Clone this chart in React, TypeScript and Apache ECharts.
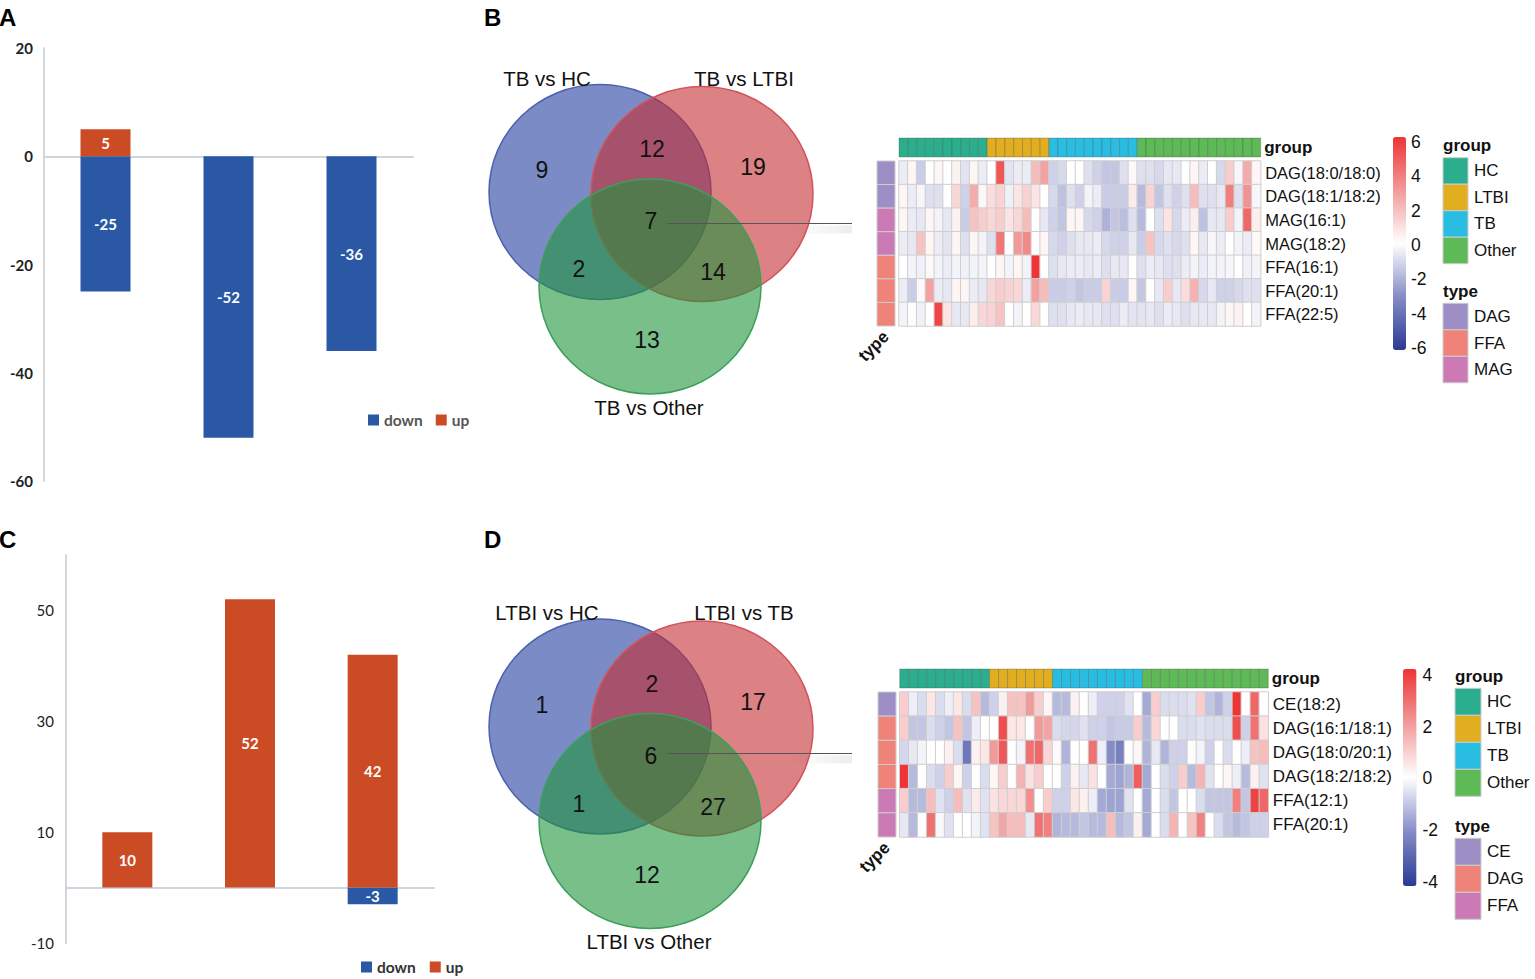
import React, { useEffect, useRef } from "react";
import * as echarts from "echarts";

// ---------------- DATA ----------------
const barCatsA = ["TB vs HC", "TB vs LTBI", "TB vs Other"];
const upA: (number | null)[] = [5, null, null];
const downA: (number | null)[] = [-25, -52, -36];

const barCatsC = ["LTBI vs HC", "LTBI vs TB", "LTBI vs Other"];
const upC: (number | null)[] = [10, 52, 42];
const downC: (number | null)[] = [null, null, -3];

// Venn: region order = only1, 1&2, only2, all, 1&3, 2&3, only3
const vennSetsB = ["TB vs HC", "TB vs LTBI", "TB vs Other"];
const vennCountsB = [9, 12, 19, 7, 2, 14, 13];
const vennSetsD = ["LTBI vs HC", "LTBI vs TB", "LTBI vs Other"];
const vennCountsD = [1, 2, 17, 6, 1, 27, 12];

const groupNames = ["HC", "LTBI", "TB", "Other"];
const groupSizes = [10, 7, 10, 14];

const rowsB = ["DAG(18:0/18:0)", "DAG(18:1/18:2)", "MAG(16:1)", "MAG(18:2)", "FFA(16:1)", "FFA(20:1)", "FFA(22:5)"];
const typeNamesB = ["DAG", "FFA", "MAG"];
const rowTypesB = ["DAG", "DAG", "MAG", "MAG", "FFA", "FFA", "FFA"];
const valuesB: number[][] = [
  [-0.5, 0.3, -1.3, 0, 0.3, 0, 0.4, -0.7, 0.3, -0.5, 0, 5, -0.7, -0.5, -0.5, 2, 2.8, -1.2, -1, 0, 0, -0.8, -1.2, -1.5, -1.5, -0.8, 0.2, -0.8, -0.8, -1, -0.6, -0.6, 0, 0.3, -0.5, 0, -1, 1.5, -0.2, 2.5, 0.3],
  [0.3, -0.5, -0.2, -0.8, -0.8, 0, 1.2, -1.2, 2.5, 0.3, 1, 1.3, -0.4, 0.8, 1.3, 0.8, 0, -1, -1.6, -0.8, -1.2, -0.3, -0.5, -1.3, -1.3, -1.3, 0.6, -1.8, 1.3, -1.5, -0.8, -1.2, -0.8, 2, -0.8, -0.8, -0.6, 3.8, -0.8, 3.2, -0.2],
  [0.3, -0.5, -0.6, 0.3, -0.3, -0.6, 0.4, -1.3, 1.8, 1.5, 1.2, 1.5, 0.8, 1.2, 2, 0, -0.6, -1.2, -1.5, 0.3, 0.3, -1, -1.2, -2, -1.5, -1.7, -0.8, -1.8, 0, -0.8, 0.8, -1, -0.5, 0.5, -1.6, -0.6, -0.6, 1.5, -0.3, 4.5, 0.5],
  [-0.5, -0.6, 1.8, 0.3, -0.5, -0.7, 0.3, -0.8, 0.3, -0.3, -0.8, 4, 0, 3, 3.5, 0, 0.3, -1, -1.2, -0.8, -0.6, -0.6, -0.5, -1, -1.2, -1.2, -0.6, -1.3, 1.8, -1, -0.8, -1, -0.8, 0.3, -0.6, -0.2, -0.5, 0, -0.3, -0.5, 0.2],
  [0, -0.3, -0.4, 0.2, -0.3, -0.5, -0.3, -0.4, -0.3, -0.3, 0, 0.3, -0.3, 0.3, -0.3, 6, 0, -0.8, -0.6, -0.5, -0.5, -0.6, -0.5, -0.8, -0.6, -0.6, 0, -0.8, -0.5, -0.6, -0.8, -0.8, -0.5, -0.3, -0.5, -0.3, -0.3, -0.2, 0, -0.4, -0.3],
  [-0.5, -1.3, 0.2, 2.8, -0.5, -0.6, 0.3, 0.3, -0.5, -0.6, 1.2, 1.5, 1.3, 1.2, -0.5, 2.8, 2, -1.3, -1.3, -1.2, -1.5, -1.3, -1.3, 1.3, -1.3, -1.3, 0.3, -1.5, 0, -0.6, 1.5, -0.6, 1, 2.3, -1, -0.6, -1.2, -1.2, -1, -0.8, -0.8],
  [-0.3, 0, -0.4, 0, 5.5, 0.8, -0.6, -0.6, 0.5, 1.2, 1.3, 1.8, 0, -0.3, 0, 1.2, 0, -0.8, -0.8, -0.6, -0.5, -0.6, -0.6, -0.8, -0.8, -0.5, -0.7, -0.7, -0.6, -0.8, -0.5, -0.6, -0.8, -0.6, -0.6, -0.6, -0.3, 0.3, 0.4, 0, -0.3],
];
const scaleTicksB = [-6, 6];

const rowsD = ["CE(18:2)", "DAG(16:1/18:1)", "DAG(18:0/20:1)", "DAG(18:2/18:2)", "FFA(12:1)", "FFA(20:1)"];
const typeNamesD = ["CE", "DAG", "FFA"];
const rowTypesD = ["CE", "DAG", "DAG", "DAG", "FFA", "FFA"];
const valuesD: number[][] = [
  [1, -0.3, -0.6, 0.5, -0.6, -0.3, 0.5, -0.6, 1.2, -1.2, -0.8, 0.3, 1.2, 1.2, 2, 1, 0.2, -1.2, -1.2, 0.3, 0, -0.3, -0.8, -0.8, -0.8, -0.5, 0, -1.5, 1, -0.6, -0.6, -0.6, -0.5, 1, -1, -1.3, -0.8, 4, 0, 3, 0],
  [1, -1, -1, -0.6, -0.8, -1, 1.2, -1, -0.3, 0, 0, 3.5, 0.5, 0.5, 0, 2, 1.8, -0.6, -0.7, -0.7, -0.5, -0.8, -0.8, -1, -0.9, -0.9, 1, -1.2, 0.8, 0, 0, -0.6, -0.6, -0.5, -0.6, -0.6, -0.6, 3.5, -0.8, 2.8, 0.6],
  [-0.7, -0.4, -0.2, 0, 0, 0.3, -0.6, -2.5, 0.3, 0.5, 2, 3.3, 0, -0.2, 2.8, 3, 0.8, 0.1, -1.3, 0, 0, 2.8, -0.3, -2, -2.3, 0, 0.2, -1.3, -0.4, -1.3, -0.8, -0.8, 0, -0.2, -0.8, 0, -0.6, 0, -0.3, 1.2, 1.3],
  [4, -1.2, 0, -0.6, -0.8, 1, 0.2, -0.8, 0, -0.6, 0.2, 1, 0, 1.5, 0.6, 1, 0, 0, -0.8, 0.3, -0.4, 0.6, 0, -1.5, -1.6, -1.3, 3.2, -1.5, 0, -0.6, -0.8, 1, -1.2, 1.5, -0.5, 0, 0.2, -0.3, -1.2, 0.3, -0.5],
  [1, -1.2, -1.2, 1.3, -0.5, -0.8, 1.3, -0.5, 0.4, -0.5, 0.6, 0.8, 0.8, 0.8, 2.2, 0, 1, -0.8, -0.8, 0.5, 0.3, -0.3, -1.5, -1.6, -1.6, -0.5, 0, -1.5, 0, -0.6, -1, 0, 0, -0.6, -1, -1, -1, 2.5, -1, 3.7, 3],
  [-0.4, -1.2, 0, 2.8, -0.1, -0.5, 0, 0, -0.2, -0.5, 1.2, 1.8, 1.3, 1.3, -0.4, 2.8, 2.5, -1.3, -1.2, -1.2, -1, -1.2, -1.2, 1.3, -1.2, -1, 0.3, -1.5, 0, -0.6, 1.5, 0, 1.2, 2.5, 0, -0.6, -1, -1.2, -1, -0.8, -0.8],
];
const scaleTicksD = [-4, 4];

// ---------------- STYLE ----------------
const BLUE = "#2A58A5";
const ORANGE = "#CB4B25";
const groupColors = ["#2BAE8D", "#E1AE1F", "#2ABDE2", "#5DBA56"];
const typeColors = ["#9D8FC6", "#EF8279", "#CB7AB6"];
const heatColors = ["#2B3A93", "#858CC7", "#FFFFFF", "#F29A9A", "#EE3434"];
const SANS = "Liberation Sans, Arial, sans-serif";
const LATO = "Lato, sans-serif";

const colNames = Array.from({ length: valuesB[0].length }, (_, i) => "S" + (i + 1));
const groupOfCol: number[] = [];
groupSizes.forEach((n, g) => {
  for (let i = 0; i < n; i++) groupOfCol.push(g);
});

const cellRenderer = (palette: string[], stroke: string) => (_p: any, api: any) => {
  const pt = api.coord([api.value(0), api.value(1)]);
  const sz = api.size([1, 1]);
  return {
    type: "rect",
    shape: { x: pt[0] - sz[0] / 2, y: pt[1] - sz[1] / 2, width: sz[0], height: sz[1] },
    style: { fill: palette[api.value(2)], stroke, lineWidth: 1 },
  };
};

function vennGraphics(sets: string[], counts: number[], dy: number, leaderY: number) {
  const circles = [
    { cx: 600, cy: 192, fill: "rgba(33,62,160,0.6)", stroke: "#4C62AE" },
    { cx: 702, cy: 194, fill: "rgba(196,45,50,0.6)", stroke: "#D2545A" },
    { cx: 650, cy: 286.5, fill: "rgba(30,148,60,0.6)", stroke: "#3C9F5A" },
  ];
  const regionPos = [
    [542, 170], [652, 149], [753, 167], [651, 221], [579, 269], [713, 272], [647, 340],
  ];
  const titlePos = [[547, 78], [744, 78], [649, 407]];
  const els: any[] = [];
  circles.forEach((c) =>
    els.push({
      type: "ellipse",
      shape: { cx: c.cx, cy: c.cy + dy, rx: 111, ry: 107.5 },
      style: { fill: c.fill, stroke: c.stroke, lineWidth: 1.5 },
    })
  );
  sets.forEach((s, i) =>
    els.push({
      type: "text",
      x: titlePos[i][0],
      y: titlePos[i][1] + dy,
      style: { text: s, fontSize: 20.5, fontFamily: SANS, fill: "#111", textAlign: "center", textVerticalAlign: "middle" },
    })
  );
  counts.forEach((n, i) =>
    els.push({
      type: "text",
      x: regionPos[i][0],
      y: regionPos[i][1] + dy,
      style: { text: String(n), fontSize: 23, fontFamily: SANS, fill: "#111", textAlign: "center", textVerticalAlign: "middle" },
    })
  );
  els.push({
    type: "rect",
    shape: { x: 790, y: leaderY + 2, width: 62, height: 8 },
    style: {
      fill: {
        type: "linear", x: 0, y: 0, x2: 1, y2: 0,
        colorStops: [
          { offset: 0, color: "rgba(0,0,0,0)" },
          { offset: 1, color: "rgba(0,0,0,0.07)" },
        ],
      },
    },
  });
  els.push({
    type: "line",
    shape: { x1: 667, y1: leaderY, x2: 852, y2: leaderY },
    style: { stroke: "#555", lineWidth: 1 },
  });
  return els;
}

function legendGraphics(
  x: number, groupTitleY: number, groupTop: number, h: number, typeTitleY: number, typeTop: number,
  typeNames: string[], swW: number, labelX: number
) {
  const els: any[] = [];
  const title = (t: string, y: number) => ({
    type: "text", x, y,
    style: { text: t, fontSize: 17, fontWeight: "bold", fontFamily: SANS, fill: "#111", textVerticalAlign: "middle" },
  });
  els.push(title("group", groupTitleY));
  groupNames.forEach((g, i) => {
    els.push({ type: "rect", shape: { x, y: groupTop + i * h, width: swW, height: h }, style: { fill: groupColors[i], stroke: "#cccccc", lineWidth: 1 } });
    els.push({ type: "text", x: labelX, y: groupTop + i * h + h / 2, style: { text: g, fontSize: 17, fontFamily: SANS, fill: "#111", textVerticalAlign: "middle" } });
  });
  els.push(title("type", typeTitleY));
  typeNames.forEach((t, i) => {
    els.push({ type: "rect", shape: { x, y: typeTop + i * h, width: swW, height: h }, style: { fill: typeColors[i], stroke: "#cccccc", lineWidth: 1 } });
    els.push({ type: "text", x: labelX, y: typeTop + i * h + h / 2, style: { text: t, fontSize: 17, fontFamily: SANS, fill: "#111", textVerticalAlign: "middle" } });
  });
  return els;
}

function buildOption(): any {
  const letter = (t: string, x: number, y: number) => ({
    type: "text", x, y,
    style: { text: t, fontSize: 24, fontWeight: "bold", fontFamily: SANS, fill: "#000", textVerticalAlign: "middle" },
  });

  const barLabel = { show: true, position: "inside", color: "#fff", fontWeight: "bold", fontFamily: LATO, fontSize: 15 };
  const heatData = (vals: number[][]) => vals.flatMap((row, r) => row.map((v, c) => [c, r, v]));
  const noAxis = { axisLine: { show: false }, axisTick: { show: false }, splitLine: { show: false } };

  const rowLabel = (size: number) => ({
    ...noAxis,
    position: "right",
    axisLabel: { fontSize: size, fontFamily: SANS, color: "#111", margin: 4.5 },
  });

  const cbarAxis = (grid: number, ticks: number[], margin: number) => ({
    gridIndex: grid,
    type: "value",
    min: ticks[0],
    max: ticks[1],
    interval: 2,
    position: "right",
    ...noAxis,
    axisLabel: { fontSize: 17.5, fontFamily: SANS, color: "#111", margin },
  });

  const gridBase = { outerBoundsMode: "none", containLabel: false };

  return {
    animation: false,
    backgroundColor: "#ffffff",
    grid: [
      { ...gridBase, left: 44, top: 48, width: 369, height: 433 },
      { ...gridBase, left: 66, top: 555, width: 368, height: 388 },
      { ...gridBase, left: 899, top: 161, width: 361.7, height: 165 },
      { ...gridBase, left: 899, top: 138, width: 361.7, height: 19 },
      { ...gridBase, left: 877, top: 161, width: 18, height: 165 },
      { ...gridBase, left: 899.7, top: 692, width: 368.6, height: 145 },
      { ...gridBase, left: 899.7, top: 669, width: 368.6, height: 19 },
      { ...gridBase, left: 878, top: 692, width: 18, height: 145 },
      { ...gridBase, left: 1393, top: 141.7, width: 13, height: 206.6 },
      { ...gridBase, left: 1403, top: 675, width: 13.5, height: 206.7 },
    ],
    xAxis: [
      { gridIndex: 0, type: "category", data: barCatsA, axisLine: { onZero: true, lineStyle: { color: "#CFD5DD", width: 2 } }, axisTick: { show: false }, axisLabel: { show: false } },
      { gridIndex: 1, type: "category", data: barCatsC, axisLine: { onZero: true, lineStyle: { color: "#CFD5DD", width: 2 } }, axisTick: { show: false }, axisLabel: { show: false } },
      { gridIndex: 2, type: "category", data: colNames, show: false },
      { gridIndex: 3, type: "category", data: colNames, show: false },
      { gridIndex: 4, type: "category", data: ["type"], ...noAxis, axisLabel: { rotate: 45, fontSize: 17, fontWeight: "bold", fontFamily: SANS, color: "#111", margin: 8 } },
      { gridIndex: 5, type: "category", data: colNames, show: false },
      { gridIndex: 6, type: "category", data: colNames, show: false },
      { gridIndex: 7, type: "category", data: ["type"], ...noAxis, axisLabel: { rotate: 45, fontSize: 17, fontWeight: "bold", fontFamily: SANS, color: "#111", margin: 8 } },
      { gridIndex: 8, type: "value", show: false },
      { gridIndex: 9, type: "value", show: false },
    ],
    yAxis: [
      {
        gridIndex: 0, type: "value", min: -60, max: 20, interval: 20,
        axisLine: { show: true, lineStyle: { color: "#D3D6DA", width: 2 } }, axisTick: { show: false }, splitLine: { show: false },
        axisLabel: { fontFamily: LATO, fontSize: 15, fontWeight: "bold", color: "#222", margin: 11 },
      },
      {
        gridIndex: 1, type: "value", min: -10, max: 60, interval: 20,
        axisLine: { show: true, lineStyle: { color: "#D3D6DA", width: 2 } }, axisTick: { show: false }, splitLine: { show: false },
        axisLabel: { fontFamily: LATO, fontSize: 15, color: "#222", margin: 12, formatter: (v: number) => (v === 60 ? "" : String(v)) },
      },
      { gridIndex: 2, type: "category", data: rowsB, inverse: true, ...rowLabel(16.5) },
      { gridIndex: 3, type: "category", data: ["group"], ...noAxis, position: "right", axisLabel: { fontSize: 17, fontWeight: "bold", fontFamily: SANS, color: "#111", margin: 3.5 } },
      { gridIndex: 4, type: "category", data: rowsB, inverse: true, show: false },
      { gridIndex: 5, type: "category", data: rowsD, inverse: true, ...rowLabel(17) },
      { gridIndex: 6, type: "category", data: ["group"], ...noAxis, position: "right", axisLabel: { fontSize: 17, fontWeight: "bold", fontFamily: SANS, color: "#111", margin: 3.5 } },
      { gridIndex: 7, type: "category", data: rowsD, inverse: true, show: false },
      cbarAxis(8, scaleTicksB, 5),
      cbarAxis(9, scaleTicksD, 6),
    ],
    legend: [
      {
        data: ["down", "up"], left: 368, top: 412, itemWidth: 11, itemHeight: 11, itemGap: 13, padding: 0, icon: "rect",
        selectedMode: false, textStyle: { fontFamily: LATO, fontWeight: "bold", fontSize: 15.5, color: "#555" },
      },
      {
        data: ["down", "up"], left: 361, top: 959, itemWidth: 11, itemHeight: 11, itemGap: 14, padding: 0, icon: "rect",
        selectedMode: false, textStyle: { fontFamily: LATO, fontWeight: "bold", fontSize: 15.5, color: "#333" },
      },
    ],
    visualMap: [
      {
        type: "continuous", seriesIndex: 4, min: scaleTicksB[0], max: scaleTicksB[1], calculable: false, hoverLink: false,
        left: 1393, top: 137, itemWidth: 13, itemHeight: 213, padding: 0, inRange: { color: heatColors },
      },
      {
        type: "continuous", seriesIndex: 7, min: scaleTicksD[0], max: scaleTicksD[1], calculable: false, hoverLink: false,
        left: 1403, top: 669, itemWidth: 13.5, itemHeight: 217, padding: 0, inRange: { color: heatColors },
      },
    ],
    series: [
      { type: "bar", name: "down", xAxisIndex: 0, yAxisIndex: 0, stack: "A", data: downA, barWidth: 50, itemStyle: { color: BLUE }, label: barLabel },
      { type: "bar", name: "up", xAxisIndex: 0, yAxisIndex: 0, stack: "A", data: upA, barWidth: 50, itemStyle: { color: ORANGE }, label: barLabel },
      { type: "bar", name: "down", xAxisIndex: 1, yAxisIndex: 1, stack: "C", data: downC, barWidth: 50, itemStyle: { color: BLUE }, label: barLabel },
      { type: "bar", name: "up", xAxisIndex: 1, yAxisIndex: 1, stack: "C", data: upC, barWidth: 50, itemStyle: { color: ORANGE }, label: barLabel },
      {
        type: "heatmap", xAxisIndex: 2, yAxisIndex: 2, data: heatData(valuesB),
        itemStyle: { borderColor: "#cfcfcf", borderWidth: 1 }, emphasis: { disabled: true },
      },
      {
        type: "custom", xAxisIndex: 3, yAxisIndex: 3, encode: { x: 0, y: 1 },
        data: groupOfCol.map((g, c) => [c, 0, g]), renderItem: cellRenderer(groupColors, "rgba(60,60,60,0.28)"),
      },
      {
        type: "custom", xAxisIndex: 4, yAxisIndex: 4, encode: { x: 0, y: 1 },
        data: rowTypesB.map((t, r) => [0, r, typeNamesB.indexOf(t)]), renderItem: cellRenderer(typeColors, "#cccccc"),
      },
      {
        type: "heatmap", xAxisIndex: 5, yAxisIndex: 5, data: heatData(valuesD),
        itemStyle: { borderColor: "#cfcfcf", borderWidth: 1 }, emphasis: { disabled: true },
      },
      {
        type: "custom", xAxisIndex: 6, yAxisIndex: 6, encode: { x: 0, y: 1 },
        data: groupOfCol.map((g, c) => [c, 0, g]), renderItem: cellRenderer(groupColors, "rgba(60,60,60,0.28)"),
      },
      {
        type: "custom", xAxisIndex: 7, yAxisIndex: 7, encode: { x: 0, y: 1 },
        data: rowTypesD.map((t, r) => [0, r, typeNamesD.indexOf(t)]), renderItem: cellRenderer(typeColors, "#cccccc"),
      },
    ],
    graphic: [
      letter("A", -1, 17),
      letter("B", 484, 17),
      letter("C", -1, 539),
      letter("D", 484, 539),
      ...vennGraphics(vennSetsB, vennCountsB, 0, 223.5),
      ...vennGraphics(vennSetsD, vennCountsD, 534.5, 753.5),
      ...legendGraphics(1443, 145, 157.7, 26.5, 291, 303.3, typeNamesB, 25, 1474),
      ...legendGraphics(1455, 676, 688.3, 27, 826.7, 838.3, typeNamesD, 26, 1487),
    ],
  };
}

export default function App() {
  const ref = useRef<HTMLDivElement>(null);
  useEffect(() => {
    if (!ref.current) return;
    const chart = echarts.init(ref.current, null, { renderer: "svg" });
    chart.setOption(buildOption());
    return () => chart.dispose();
  }, []);
  return (
    <div
      ref={ref}
      style={{ position: "fixed", left: 0, top: 0, width: 1535, height: 979, background: "#fff" }}
    />
  );
}
